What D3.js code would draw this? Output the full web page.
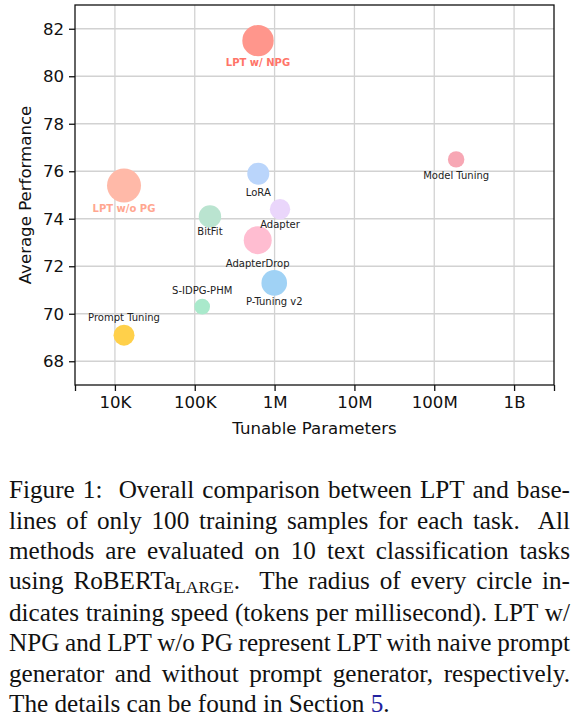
<!DOCTYPE html>
<html>
<head>
<meta charset="utf-8">
<script src="https://cdn.jsdelivr.net/npm/d3@7"></script>
<style>
  body { margin: 0; background: #fff; }
  #fig { position: relative; width: 580px; height: 720px; overflow: hidden; }
  #chart { position: absolute; left: 0; top: 0; }
  #caption {
    position: absolute; left: 9px; top: 475.4px; width: 561px;
    font-family: "Liberation Serif", "Times New Roman", serif;
    font-size: 25.2px; line-height: 30.2px; color: #111;
  }
  .line { white-space: nowrap; }
  .line span.txt { white-space: pre; }
  .sub { font-size: 0.7em; position: relative; top: 0.22em; }
  .ref { color: #2323a0; }
</style>
</head>
<body>
<div id="fig">
  <svg id="chart"></svg>
  <div id="caption"></div>
</div>
<script>
// methods and their values
const methods     = ['LPT w/ NPG', 'LPT w/o PG', 'LoRA', 'Adapter', 'BitFit',
                     'AdapterDrop', 'P-Tuning v2', 'S-IDPG-PHM', 'Prompt Tuning', 'Model Tuning'];
const params      = [620000, 13000, 625000, 1170000, 155000, 615000, 990000, 124000, 13000, 188000000];
const performance = [81.5, 75.4, 75.9, 74.4, 74.1, 73.1, 71.3, 70.3, 69.1, 76.5];
const speed       = [15.7, 17.0, 11.0, 10.2, 11.2, 14.0, 12.8, 7.8, 10.5, 8.2];   // tokens / ms (relative)
const labelY      = [80.6, 74.45, 75.12, 73.75, 73.47, 72.11, 70.53, 70.98, 69.86, 75.84];

const xTicks      = [1e4, 1e5, 1e6, 1e7, 1e8, 1e9];
const xTickLabels = ['10K', '100K', '1M', '10M', '100M', '1B'];
const yTicks      = [68, 70, 72, 74, 76, 78, 80, 82];

const captionLines = [
  'Figure 1:  Overall comparison between LPT and base-',
  'lines of only 100 training samples for each task.  All',
  'methods are evaluated on 10 text classification tasks',
  'using RoBERTa<span class="sub">LARGE</span>.  The radius of every circle in-',
  'dicates training speed (tokens per millisecond). LPT w/',
  'NPG and LPT w/o PG represent LPT with naive prompt',
  'generator and without prompt generator, respectively.',
  'The details can be found in Section <span class="ref">5</span>.'
];

// styles
const fills = {
  'LPT w/ NPG': '#ff968c', 'LPT w/o PG': '#ffb9a8', 'LoRA': '#bad5fb', 'Adapter': '#ead6fb',
  'BitFit': '#bae4d0', 'AdapterDrop': '#ffbdd1', 'P-Tuning v2': '#a0d2f5',
  'S-IDPG-PHM': '#a9e9cb', 'Prompt Tuning': '#ffd04a', 'Model Tuning': '#f7a7b4'
};
const boldLabels = { 'LPT w/ NPG': '#ff7468', 'LPT w/o PG': '#ffa690' };

const width = 580, height = 460,
      mLeft = 75, mRight = 554, mTop = 5, mBottom = 385,
      tickFont = '16.6px', font = '"DejaVu Sans", sans-serif';

const svg = d3.select('#chart')
              .attr('width', width)
              .attr('height', height);

const x = d3.scaleLog().domain([10 ** 3.5, 10 ** 9.5]).range([mLeft, mRight]),
      y = d3.scaleLinear().domain([67, 83]).range([mBottom, mTop]),
      r = d3.scaleLinear().domain([0, d3.max(speed)]).range([0, 17]);

// grid
svg.append('g')
   .selectAll('line')
   .data(xTicks)
   .join('line')
   .attr('x1', d => x(d)).attr('x2', d => x(d))
   .attr('y1', mTop).attr('y2', mBottom)
   .attr('stroke', '#d2d2d2').attr('stroke-width', 1.3);

svg.append('g')
   .selectAll('line')
   .data(yTicks)
   .join('line')
   .attr('x1', mLeft).attr('x2', mRight)
   .attr('y1', d => y(d)).attr('y2', d => y(d))
   .attr('stroke', '#d2d2d2').attr('stroke-width', 1.3);

// axes
const xAxis = svg.append('g')
   .attr('transform', `translate(0, ${mBottom})`)
   .call(d3.axisBottom(x)
           .tickValues([10 ** 3.5, ...xTicks, 10 ** 9.5])
           .tickFormat(d => {
             const i = xTicks.indexOf(d);
             return i < 0 ? '' : xTickLabels[i];
           })
           .tickSize(6).tickSizeOuter(0).tickPadding(5));

const yAxis = svg.append('g')
   .attr('transform', `translate(${mLeft}, 0)`)
   .call(d3.axisLeft(y).tickValues(yTicks).tickSize(6).tickSizeOuter(0).tickPadding(5));

[xAxis, yAxis].forEach(a => {
  a.select('.domain').remove();
  a.selectAll('.tick line').attr('stroke', '#111').attr('stroke-width', 1.3);
  a.selectAll('.tick text')
   .attr('fill', '#111')
   .style('font-family', font)
   .style('font-size', tickFont);
});

// frame
svg.append('rect')
   .attr('x', mLeft).attr('y', mTop)
   .attr('width', mRight - mLeft).attr('height', mBottom - mTop)
   .attr('fill', 'none').attr('stroke', '#111').attr('stroke-width', 1.3);

// bubbles
svg.append('g')
   .selectAll('circle')
   .data(methods)
   .join('circle')
   .attr('cx', (d, i) => x(params[i]))
   .attr('cy', (d, i) => y(performance[i]))
   .attr('r', (d, i) => r(speed[i]))
   .attr('fill', d => fills[d]);

// labels
svg.append('g')
   .selectAll('text')
   .data(methods)
   .join('text')
   .attr('x', (d, i) => x(params[i]))
   .attr('y', (d, i) => y(labelY[i]))
   .attr('text-anchor', 'middle')
   .attr('dominant-baseline', 'central')
   .style('font-family', font)
   .style('font-size', '10px')
   .style('font-weight', d => boldLabels[d] ? 'bold' : 'normal')
   .attr('fill', d => boldLabels[d] || '#222')
   .text(d => d);

// axis titles
svg.append('text')
   .attr('x', (mLeft + mRight) / 2)
   .attr('y', 433.5)
   .attr('text-anchor', 'middle')
   .attr('fill', '#111')
   .style('font-family', font)
   .style('font-size', tickFont)
   .text('Tunable Parameters');

svg.append('text')
   .attr('transform', `translate(31, ${(mTop + mBottom) / 2}) rotate(-90)`)
   .attr('text-anchor', 'middle')
   .attr('fill', '#111')
   .style('font-family', font)
   .style('font-size', tickFont)
   .text('Average Performance');

// caption, justified line by line like the paper
const caption = d3.select('#caption'),
      capWidth = 561;
captionLines.forEach((html, i) => {
  const span = caption.append('div').classed('line', true)
                      .append('span').classed('txt', true).html(html);
  if (i < captionLines.length - 1) {
    const w = span.node().getBoundingClientRect().width,
          gaps = (span.text().match(/ /g) || []).length;
    span.style('word-spacing', ((capWidth - w) / gaps) + 'px');
  }
});
</script>
</body>
</html>
